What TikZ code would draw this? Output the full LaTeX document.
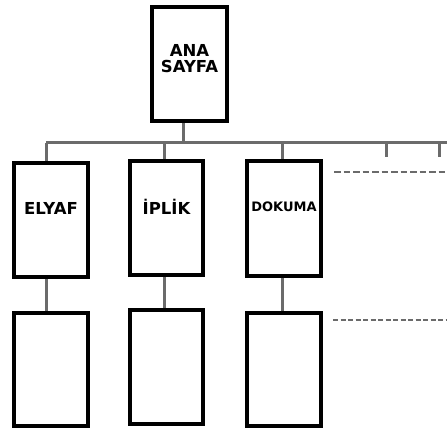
\documentclass[tikz,border=0pt]{standalone}
\usepackage{fontspec}
\setmainfont{DejaVu Sans}
\begin{document}
\begin{tikzpicture}[x=1pt,y=-1pt,
  box/.style={draw=black,line width=3.6pt,fill=white,inner sep=0pt,minimum width=74.5pt,minimum height=114.5pt},
  lbl/.style={font=\bfseries\fontsize{16.5}{18}\selectfont,inner sep=0pt,align=center},
  conn/.style={draw=black!58,line width=3pt},
  dsh/.style={draw=black!58,line width=2.8pt,dash pattern=on 6.5pt off 3pt}]
\useasboundingbox (0,0) rectangle (447,430);
\fill[white] (0,0) rectangle (447,430);
% bus coordinates
\coordinate (b0) at (183,143);
\coordinate (b1) at (46,143);
\coordinate (b2) at (164,143);
\coordinate (b3) at (282,143);
\coordinate (b4) at (386,143);
\coordinate (b5) at (439,143);
\coordinate (bend) at (447,143);
\coordinate (t4) at (386,157);
\coordinate (t5) at (439,157);
\coordinate (d1a) at (334,172);
\coordinate (d1b) at (447,172);
\coordinate (d2a) at (333,320);
\coordinate (d2b) at (447,320);
% boxes
\node[box,minimum width=75.5pt] (ana) at (189.5,64) {};
\node[box] (e1) at (51,220) {};
\node[box,minimum width=73.5pt] (i1) at (166.5,218) {};
\node[box,minimum height=115.5pt] (d1) at (284,218.5) {};
\node[box,minimum height=113.5pt] (e2) at (51,369.5) {};
\node[box,minimum width=73.5pt] (i2) at (166.5,367) {};
\node[box,minimum height=113.5pt] (d2) at (284,369.5) {};
% labels
\node[lbl] (anat) at (189.5,59) {ANA\\[-2pt]SAYFA};
\node[lbl] (et) at (51,208.5) {ELYAF};
\node[lbl] (it) at (166.5,207) {İPLİK};
\node[lbl,font=\bfseries\fontsize{13}{15}\selectfont] (dt) at (284,207) {DOKUMA};
% connectors
\draw[conn] (ana.south -| b0) -- (b0);
\draw[conn] (b1) -- (bend);
\draw[conn] (b1) -- (e1.north -| b1);
\draw[conn] (b2) -- (i1.north -| b2);
\draw[conn] (b3) -- (d1.north -| b3);
\draw[conn] (b4) -- (t4);
\draw[conn] (b5) -- (t5);
\draw[conn] (e1.south -| b1) -- (e2.north -| b1);
\draw[conn] (i1.south -| b2) -- (i2.north -| b2);
\draw[conn] (d1.south -| b3) -- (d2.north -| b3);
\draw[dsh] (d1a) -- (d1b);
\draw[dsh,dash pattern=on 5pt off 2.5pt] (d2a) -- (d2b);
\end{tikzpicture}
\end{document}
